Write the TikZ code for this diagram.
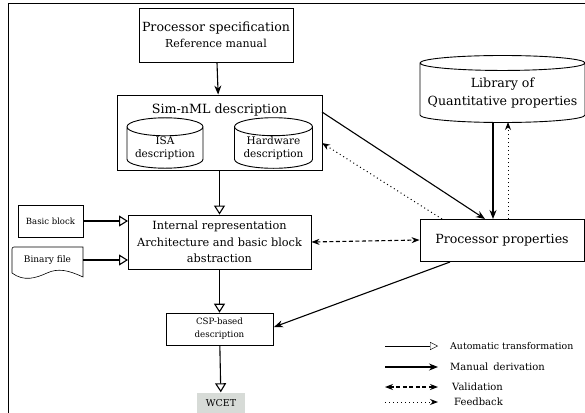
\documentclass[tikz,border=0pt]{standalone}
\usepackage{fontspec}
\setmainfont{DejaVu Serif}
\usetikzlibrary{positioning}
\usetikzlibrary{arrows.meta}
\usetikzlibrary{shapes.geometric}
\tikzset{
box/.style={draw,line width=0.9pt,align=center,inner sep=1pt},
store/.style={draw,line width=0.9pt,cylinder,shape border rotate=90,align=center,inner sep=0pt,anchor=shape center},
autoarrow/.style={line width=1.1pt,-{Triangle[open,length=9pt,width=11pt]}},
manualarrow/.style={line width=1.1pt,-{Stealth[length=9pt,width=7pt]}},
checkarrow/.style={line width=1.1pt,dash pattern=on 4pt off 2.5pt,{Stealth[length=8pt,width=6pt]}-{Stealth[length=8pt,width=6pt]}},
backarrow/.style={line width=1pt,dash pattern=on 1pt off 3pt,-{Stealth[length=8pt,width=6pt]}},
legendtext/.style={anchor=west,font=\fontsize{10}{12}\selectfont,inner sep=0pt}
}
\begin{document}
\begin{tikzpicture}[x=1pt,y=-1pt]
\clip (0,0) rectangle (585,412);
\draw[line width=0.9pt] (8,430) -- (8,3) -- (600,3);

% Coordinates
\coordinate (simnml_right_top) at (322,112);
\coordinate (simnml_right_low) at (322,143);
\coordinate (props_top_left) at (442,219);
\coordinate (props_top_mid) at (485,219);
\coordinate (props_top_a) at (493,219);
\coordinate (props_top_b) at (508,219);
\coordinate (lib_bottom_a) at (493,122);
\coordinate (lib_bottom_b) at (508,122);
\coordinate (props_bottom) at (450,262);
\coordinate (csp_right) at (274,327);
\coordinate (irep_top_bb) at (128,221);
\coordinate (irep_top_bin) at (128,260);

% Boxes
\node[box,minimum width=154,minimum height=54,font=\fontsize{12.6}{16}\selectfont] (spec) at (216,35) {Processor specification\\{\fontsize{11}{13}\selectfont Reference manual}};
\node[box,minimum width=205,minimum height=75] (simnml) at (219.5,132.5) {};
\node[font=\fontsize{12.7}{15}\selectfont] (simnml_title) at (219.5,110) {Sim-nML description};
\node[store,minimum width=76,minimum height=48,aspect=0.3,font=\fontsize{10.5}{13}\selectfont] (isa) at (165,143) {ISA\\description};
\node[store,minimum width=78,minimum height=48,aspect=0.3,font=\fontsize{10.5}{13}\selectfont] (hw) at (273.5,143) {Hardware\\description};

\node[box,minimum width=183,minimum height=54,font=\fontsize{11.3}{16.5}\selectfont] (irep) at (219.5,242) {Internal representation\\Architecture and basic block\\abstraction};
\node[box,line width=0.6pt,minimum width=65,minimum height=32,font=\fontsize{8.5}{10}\selectfont] (bblock) at (50.5,221) {Basic block};
\node[minimum width=71,minimum height=26,font=\fontsize{9}{10}\selectfont] (binary) at (47.5,260) {Binary file};
\draw[line width=0.6pt] (12,273) -- (12,249) to[out=90,in=180] (14,247) -- (83,247) -- (83,277)
  .. controls (68,270) and (58,268) .. (47,273) .. controls (36,278) and (24,282) .. (12,273);

\node[box,line width=0.6pt,minimum width=107,minimum height=32,font=\fontsize{8.7}{13}\selectfont] (csp) at (219.5,329) {CSP-based\\description};
\node[fill=gray!35!green!8!gray!30,minimum width=48,minimum height=21,font=\fontsize{9.5}{10}\selectfont] (wcet) at (221,403) {WCET};

\node[store,minimum width=165,minimum height=67,aspect=0.1,font=\fontsize{12.6}{18}\selectfont] (library) at (502.5,89) {Library of\\Quantitative properties};
\node[box,minimum width=164,minimum height=42,font=\fontsize{12.6}{15}\selectfont] (props) at (502,240) {Processor properties};

% Arrows
\draw[manualarrow] (spec) -- (simnml);
\draw[autoarrow] (simnml) -- (irep);
\draw[autoarrow] (bblock.east) -- (irep_top_bb);
\draw[autoarrow] (binary.east) -- (irep_top_bin);
\draw[autoarrow] (irep) -- (csp);
\draw[autoarrow] (csp) -- (wcet);
\draw[checkarrow] (irep.east) -- (props.west);
\draw[manualarrow] (simnml_right_top) -- (props_top_mid);
\draw[backarrow] (props_top_left) -- (simnml_right_low);
\draw[manualarrow] (lib_bottom_a) -- (props_top_a);
\draw[backarrow] (props_top_b) -- (lib_bottom_b);
\draw[manualarrow] (props_bottom) -- (csp_right);

% Legend
\node[legendtext,font=\fontsize{9.4}{12}\selectfont] (auto_text) at (450,346) {Automatic transformation};
\node[legendtext] (manual_text) at (450,367) {Manual\, derivation};
\node[legendtext] (check_text) at (452,387) {Validation};
\node[legendtext] (back_text) at (454,402) {Feedback};
\coordinate (auto_start) at (385,346);
\coordinate (manual_start) at (385,367);
\coordinate (check_start) at (385,387);
\coordinate (back_start) at (385,402);
\draw[-{Triangle[open,length=8pt,width=8pt]}] (auto_start) -- ([xshift=-12]auto_text.west);
\draw[manualarrow] (manual_start) -- ([xshift=-12]manual_text.west);
\draw[checkarrow] (check_start) -- ([xshift=-14]check_text.west);
\draw[backarrow] (back_start) -- ([xshift=-16]back_text.west);

\end{tikzpicture}
\end{document}
